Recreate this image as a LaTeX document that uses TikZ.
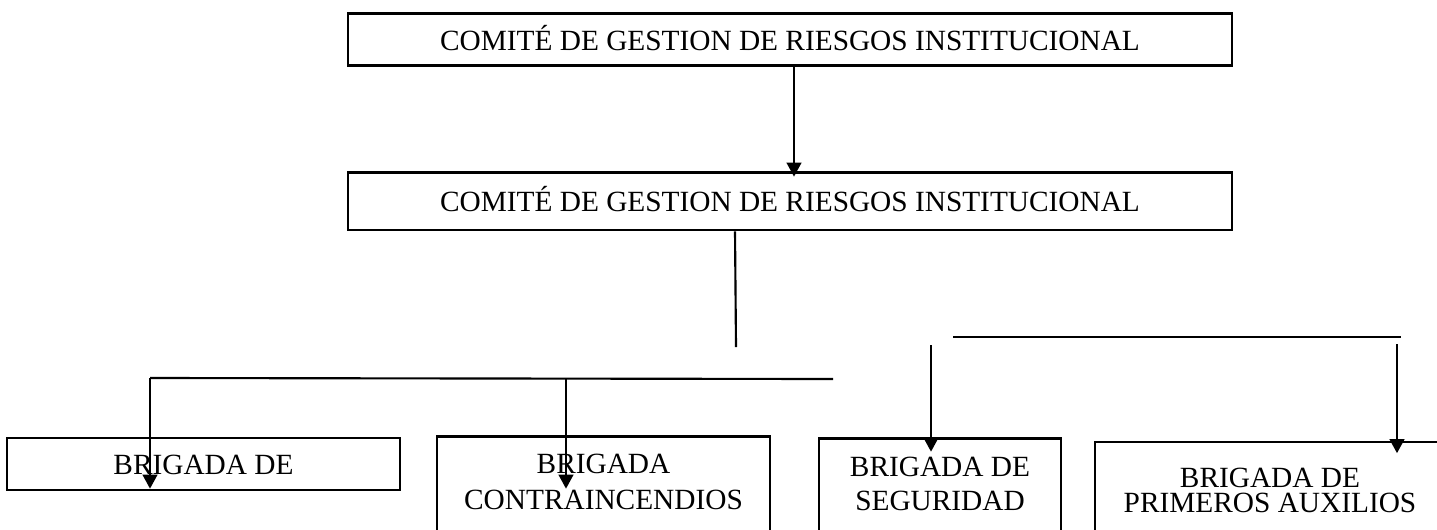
\documentclass[tikz,border=0pt]{standalone}
\usepackage{fontspec}
\setmainfont{Liberation Serif}
\usepackage{tikz}
\usetikzlibrary{arrows.meta}
\tikzstyle{orgbox} = [draw=black, line width=2pt, rectangle, inner sep=0pt,
text height=16pt, text depth=0pt, font=\fontsize{22}{26}\selectfont]
\tikzstyle{brigbox} = [orgbox, anchor=north, align=center, text depth=80pt]
\tikzstyle{plainline} = [draw=black, line width=1.6pt]
\tikzstyle{link} = [plainline, -{Triangle[width=11pt, length=10.5pt]}]

\begin{document}
\begin{tikzpicture}[x=0.75pt, y=-0.75pt]
        \useasboundingbox (0,0) rectangle (1437,529);
        % comites
        \node [orgbox, minimum width=663pt, minimum height=39.3pt] (comite1) at (790,39.5)
            {COMITÉ DE GESTION DE RIESGOS INSTITUCIONAL};
        \node [orgbox, minimum width=663pt, minimum height=43pt] (comite2) at (790,201.3)
            {COMITÉ DE GESTION DE RIESGOS INSTITUCIONAL};
        % brigadas
        \node [orgbox, minimum width=294.75pt, minimum height=39pt] (brigA) at (203.5,464)
            {BRIGADA DE};
        \node [brigbox, minimum width=249.75pt, inner ysep=11.75pt, text height=42.8pt,
            font=\fontsize{22}{26.8}\selectfont] (brigB) at (603.5,435)
            {BRIGADA\\CONTRAINCENDIOS};
        \node [brigbox, minimum width=181.5pt, inner ysep=12.8pt, text height=41pt,
            font=\fontsize{22}{25}\selectfont] (brigC) at (940,437)
            {BRIGADA DE\\SEGURIDAD};
        \node [brigbox, minimum width=262.5pt, inner ysep=18pt, text height=35pt,
            font=\fontsize{22}{19}\selectfont] (brigD) at (1270,440.5)
            {BRIGADA DE\\PRIMEROS AUXILIOS};
        % free ends of the lines
        \coordinate (j1) at (736,347);
        \coordinate (h1a) at (150,378);
        \coordinate (h1b) at (833,379);
        \coordinate (h1c) at (566,379);
        \coordinate (h2a) at (953,337);
        \coordinate (h2b) at (1401,337);
        \coordinate (d3) at (931,345);
        \coordinate (d4) at (1397,344);
        % connectors
        \draw [link] ([xshift=3pt]comite1.south) -- ([xshift=3pt, yshift=-4pt]comite2.north);
        \draw [plainline] ([xshift=-41.25pt]comite2.south) -- (j1);
        \draw [plainline] (h1a) -- (h1b);
        \draw [plainline] (h2a) -- (h2b);
        \draw [link] (h1a) -- ([yshift=2pt]h1a |- brigA.south);
        \draw [link] (h1c) -- ([yshift=2pt]h1c |- brigA.south);
        \draw [link] (d3) -- ([yshift=-11pt]d3 |- brigC.north);
        \draw [link] (d4) -- ([yshift=-9.5pt]d4 |- brigD.north);
    \end{tikzpicture}
\end{document}
